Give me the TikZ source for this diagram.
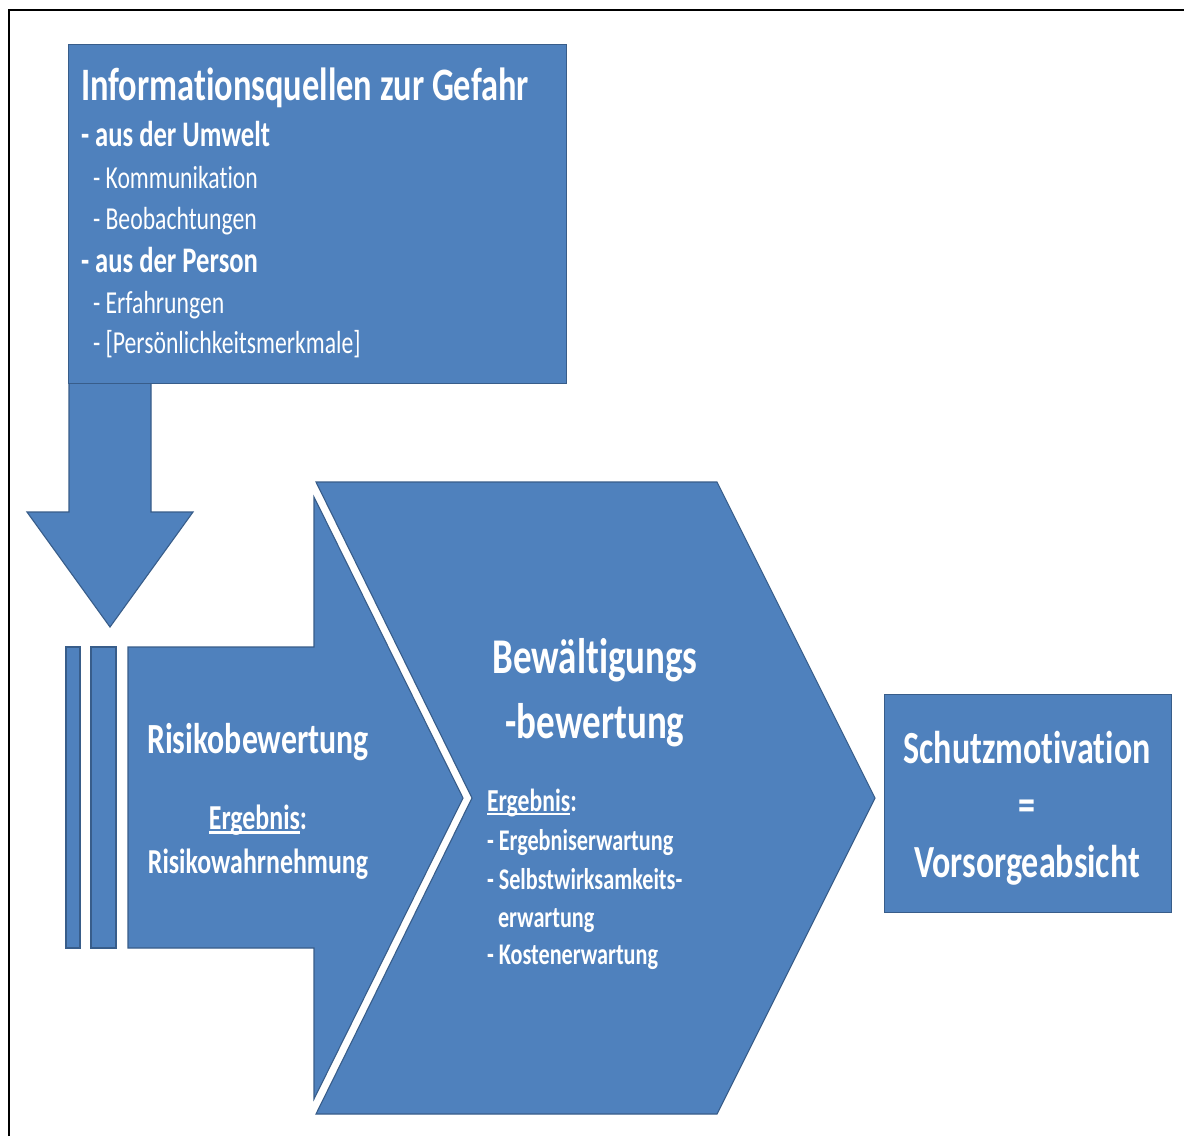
\documentclass[tikz,border=0pt]{standalone}
\usepackage{fontspec}
\setmainfont{Carlito}[FakeStretch=0.74, Ligatures=NoCommon]
\definecolor{accent}{HTML}{4F81BD}
\definecolor{accentline}{HTML}{385D8A}
% font size helper and a thick underline for the "Ergebnis" labels
\newcommand\setfs[1]{\fontsize{#1}{#1}\selectfont}
\newcommand\ulword[1]{\setbox0\hbox{#1}\rlap{\rule[-0.14em]{\wd0}{0.075em}}\box0}
\begin{document}
\begin{tikzpicture}[x=1pt,y=-1pt,
  shapefill/.style={fill=accent, draw=accentline, line width=1.1pt, line join=miter},
  txt/.style={text=white, inner sep=0pt, outer sep=0pt},
  head/.style={txt, font=\bfseries\setfs{46.5}},
  sub/.style={txt, font=\bfseries\setfs{36}},
  item/.style={txt, font=\setfs{32}},
  bigl/.style={txt, font=\bfseries\setfs{50}},
  midl/.style={txt, font=\bfseries\setfs{43}},
  riskl/.style={txt, font=\bfseries\setfs{35}},
  smll/.style={txt, font=\bfseries\setfs{32}},
  lst/.style={txt, font=\bfseries\setfs{30}},
  goal/.style={txt, font=\bfseries\setfs{46}}]
\useasboundingbox (0,0) rectangle (1184,1136);
\fill[white] (0,0) rectangle (1184,1136);
% outer frame (left and top edges)
\draw[line width=2pt] (9,1136) -- (9,10) -- (1184,10);

% down arrow from the information box
\path[shapefill] (69,380) -- (151,380) -- (151,512) -- (193,512) -- (110,627)
  -- (27,512) -- (69,512) -- cycle;

% information box
\node (info) [shapefill, anchor=north west, minimum width=498pt, minimum height=339pt,
  inner sep=0pt] at (68,44) {};
\node (t1) [head, anchor=base west] at (81,100) {Informationsquellen zur Gefahr};
\node (t2) [sub, anchor=base west] at (81,146) {-\,aus der Umwelt};
\node (t3) [item, anchor=base west] at (93,188) {- Kommunikation};
\node (t4) [item, anchor=base west] at (93,229) {- Beobachtungen};
\node (t5) [sub, anchor=base west] at (81,272) {-\,aus der Person};
\node (t6) [item, anchor=base west] at (93,313) {- Erfahrungen};
\node (t7) [item, anchor=base west] at (93,353) {- [Persönlichkeitsmerkmale]};

% risk appraisal arrow with striped tail
\path[shapefill] (66,647) rectangle (80,948);
\path[shapefill] (91,647) rectangle (116,948);
\path[shapefill] (128,647) -- (314,647) -- (314,497) -- (463,798) -- (314,1099)
  -- (314,948) -- (128,948) -- cycle;
\node (r1) [midl, anchor=base] at (258,753) {Risikobewertung};
\node (r2) [riskl, anchor=base] at (258,829) {\ulword{Ergebnis}:};
\node (r3) [riskl, anchor=base] at (258,873) {Risikowahrnehmung};

% coping appraisal chevron
\path[shapefill] (316,482) -- (717,482) -- (875,798) -- (717,1114) -- (316,1114)
  -- (472,798) -- cycle;
\node (c1) [bigl, anchor=base] at (595,673) {Bewältigungs};
\node (c2) [bigl, anchor=base] at (595,738) {-bewertung};
\node (c3) [smll, anchor=base west] at (487,811) {\ulword{Ergebnis}:};
\node (c4) [lst, anchor=base west] at (487,850) {- Ergebniserwartung};
\node (c5) [lst, anchor=base west] at (487,889) {- Selbstwirksamkeits-};
\node (c6) [lst, anchor=base west] at (498,927) {erwartung};
\node (c7) [lst, anchor=base west] at (487,964) {- Kostenerwartung};

% protection motivation box
\node (goal) [shapefill, anchor=north west, minimum width=287pt, minimum height=218pt,
  inner sep=0pt] at (884,694) {};
\node (g1) [goal, anchor=base] at (1027,763) {Schutzmotivation};
\node (g2) [goal, anchor=base] at (1027,820) {=};
\node (g3) [goal, anchor=base] at (1027,877) {Vorsorgeabsicht};
\end{tikzpicture}
\end{document}
